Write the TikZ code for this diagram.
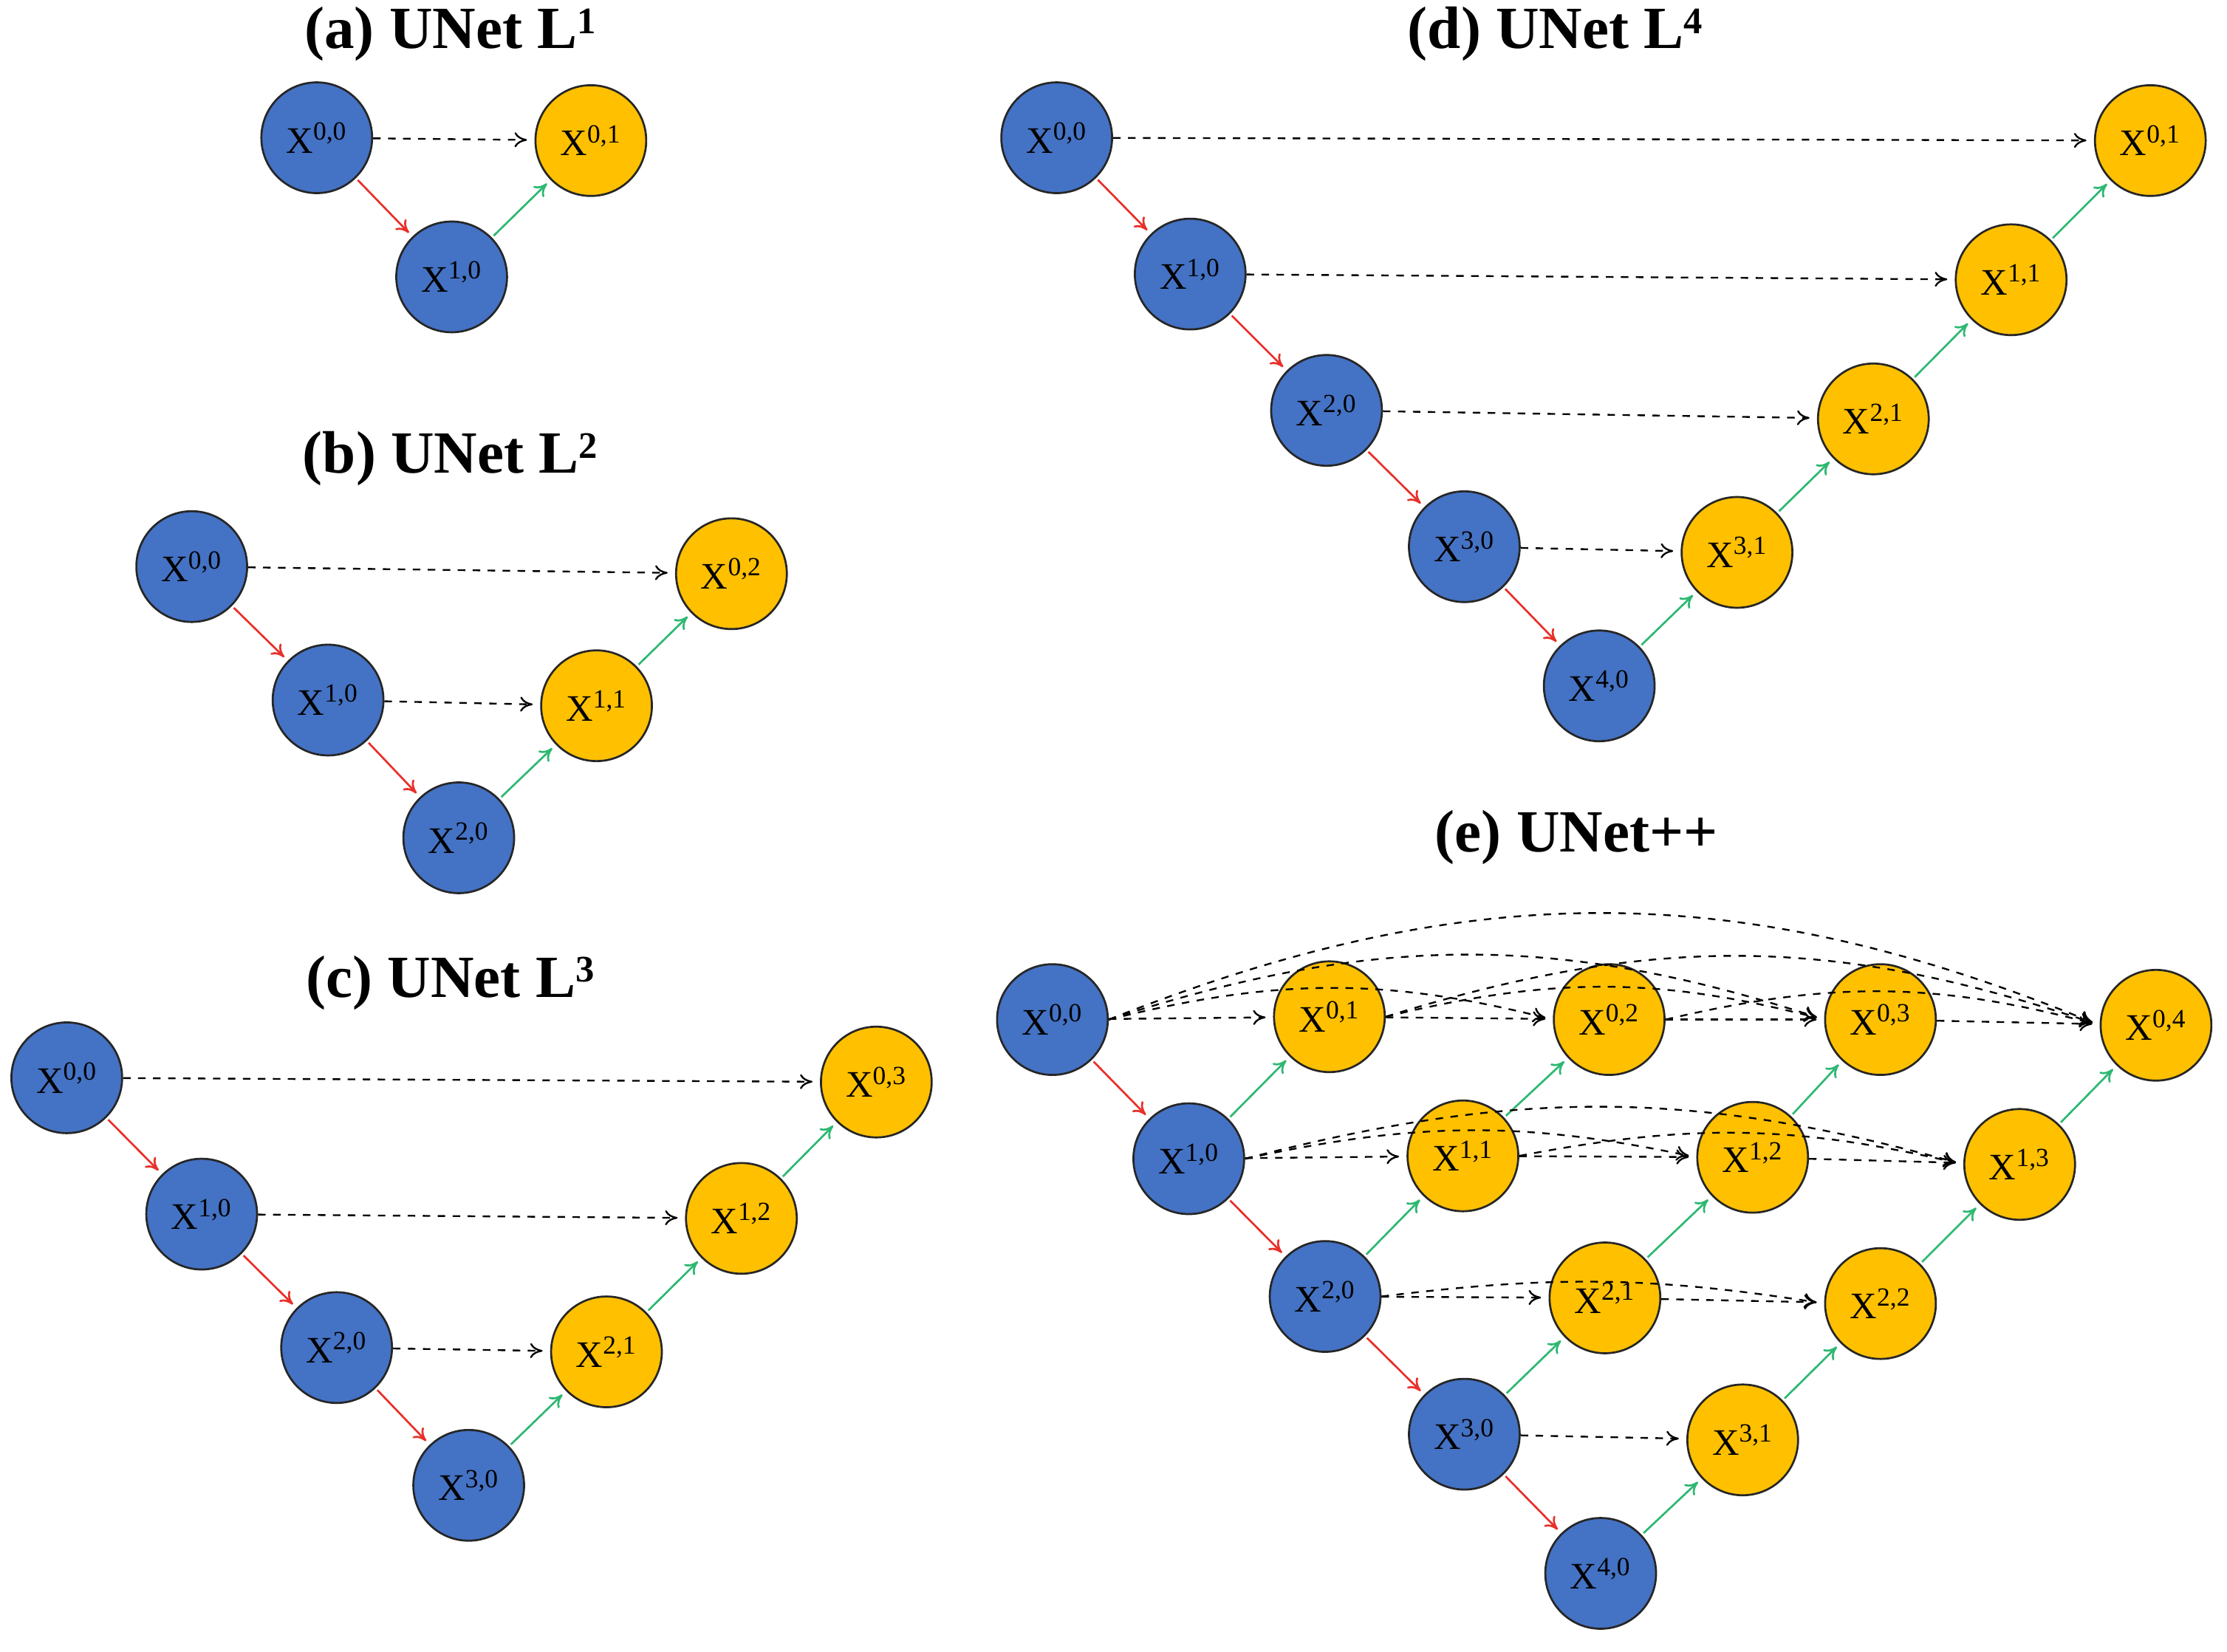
\documentclass[tikz,border=0pt]{standalone}
\usepackage{fontspec}
\setmainfont{Liberation Serif}
\usetikzlibrary{arrows.meta}
\definecolor{nb}{HTML}{4472C4}
\definecolor{ny}{HTML}{FFC000}
\definecolor{gr}{HTML}{2EB872}
\definecolor{rd}{HTML}{E8302A}
\begin{document}
\begin{tikzpicture}[x=0.02cm,y=-0.02cm,
 enc/.style={circle,draw=black!85,line width=0.8pt,fill=nb,minimum size=1.56cm,inner sep=0pt,font=\fontsize{15}{15}\selectfont},
 dec/.style={enc,fill=ny},
 ttl/.style={font=\fontsize{24}{24}\selectfont\bfseries},
 dn/.style={draw=rd,line width=0.8pt,-{To[length=5pt,width=6pt]},shorten >=2pt,shorten <=1pt},
 up/.style={draw=gr,line width=0.8pt,-{To[length=5pt,width=6pt]},shorten >=2pt,shorten <=1pt},
 sk/.style={draw=black,dashed,line width=0.7pt,-{To[length=5pt,width=6pt]},shorten >=3pt}]
\useasboundingbox (0,0) rectangle (1568,1163);
\newcommand{\lb}[2]{X\textsuperscript{#1,#2}}
\newcommand{\tsup}[1]{\raisebox{0.55ex}{\fontsize{15}{15}\selectfont #1}}
% (a)
\node[ttl] (ta) at (317,24) {(a) UNet L\tsup{1}};
\node[enc] (a00) at (223,97) {\lb00};
\node[dec] (a01) at (416,99) {\lb01};
\node[enc] (a10) at (318,195) {\lb10};
\draw[sk] (a00) -- (a01); \draw[dn] (a00) -- (a10); \draw[up] (a10) -- (a01);
% (b)
\node[ttl] (tb) at (317,323) {(b) UNet L\tsup{2}};
\node[enc] (b00) at (135,399) {\lb00};
\node[dec] (b02) at (515,404) {\lb02};
\node[enc] (b10) at (231,493) {\lb10};
\node[dec] (b11) at (420,497) {\lb11};
\node[enc] (b20) at (323,590) {\lb20};
\draw[sk] (b00) -- (b02); \draw[sk] (b10) -- (b11);
\draw[dn] (b00) -- (b10); \draw[dn] (b10) -- (b20);
\draw[up] (b20) -- (b11); \draw[up] (b11) -- (b02);
% (c)
\node[ttl] (tc) at (317,692) {(c) UNet L\tsup{3}};
\node[enc] (c00) at (47,759) {\lb00};
\node[dec] (c03) at (617,762) {\lb03};
\node[enc] (c10) at (142,855) {\lb10};
\node[dec] (c12) at (522,858) {\lb12};
\node[enc] (c20) at (237,949) {\lb20};
\node[dec] (c21) at (427,952) {\lb21};
\node[enc] (c30) at (330,1046) {\lb30};
\draw[sk] (c00) -- (c03); \draw[sk] (c10) -- (c12); \draw[sk] (c20) -- (c21);
\draw[dn] (c00) -- (c10); \draw[dn] (c10) -- (c20); \draw[dn] (c20) -- (c30);
\draw[up] (c30) -- (c21); \draw[up] (c21) -- (c12); \draw[up] (c12) -- (c03);
% (d)
\node[ttl] (td) at (1095,24) {(d) UNet L\tsup{4}};
\node[enc] (d00) at (744,97) {\lb00};
\node[dec] (d01) at (1514,99) {\lb01};
\node[enc] (d10) at (838,193) {\lb10};
\node[dec] (d11) at (1416,197) {\lb11};
\node[enc] (d20) at (934,289) {\lb20};
\node[dec] (d21) at (1319,295) {\lb21};
\node[enc] (d30) at (1031,385) {\lb30};
\node[dec] (d31) at (1223,389) {\lb31};
\node[enc] (d40) at (1126,483) {\lb40};
\draw[sk] (d00) -- (d01); \draw[sk] (d10) -- (d11); \draw[sk] (d20) -- (d21); \draw[sk] (d30) -- (d31);
\draw[dn] (d00) -- (d10); \draw[dn] (d10) -- (d20); \draw[dn] (d20) -- (d30); \draw[dn] (d30) -- (d40);
\draw[up] (d40) -- (d31); \draw[up] (d31) -- (d21); \draw[up] (d21) -- (d11); \draw[up] (d11) -- (d01);
% (e)
\node[ttl] (te) at (1110,590) {(e) UNet++};
\node[enc] (e00) at (741,718) {\lb00};
\node[dec] (e01) at (936,716) {\lb01};
\node[dec] (e02) at (1133,718) {\lb02};
\node[dec] (e03) at (1324,718) {\lb03};
\node[dec] (e04) at (1518,722) {\lb04};
\node[enc] (e10) at (837,816) {\lb10};
\node[dec] (e11) at (1030,814) {\lb11};
\node[dec] (e12) at (1234,815) {\lb12};
\node[dec] (e13) at (1422,820) {\lb13};
\node[enc] (e20) at (933,913) {\lb20};
\node[dec] (e21) at (1130,914) {\lb21};
\node[dec] (e22) at (1324,918) {\lb22};
\node[enc] (e30) at (1031,1010) {\lb30};
\node[dec] (e31) at (1227,1014) {\lb31};
\node[enc] (e40) at (1127,1108) {\lb40};
\draw[dn] (e00) -- (e10); \draw[dn] (e10) -- (e20); \draw[dn] (e20) -- (e30); \draw[dn] (e30) -- (e40);
\draw[up] (e10) -- (e01); \draw[up] (e11) -- (e02); \draw[up] (e12) -- (e03); \draw[up] (e13) -- (e04);
\draw[up] (e20) -- (e11); \draw[up] (e21) -- (e12); \draw[up] (e22) -- (e13);
\draw[up] (e30) -- (e21); \draw[up] (e31) -- (e22);
\draw[up] (e40) -- (e31);
% skips row 0
\draw[sk] (e00) -- (e01); \draw[sk] (e01) -- (e02); \draw[sk] (e02) -- (e03); \draw[sk] (e03) -- (e04);
\draw[sk] (e00.east) to[bend left=14] (e02.west);
\draw[sk] (e01.east) to[bend left=14] (e03.west);
\draw[sk] (e02.east) to[bend left=14] (e04.west);
\draw[sk] (e00.east) to[bend left=18] (e03.west);
\draw[sk] (e01.east) to[bend left=18] (e04.west);
\draw[sk] (e00.east) to[bend left=22] (e04.west);
% row 1
\draw[sk] (e10) -- (e11); \draw[sk] (e11) -- (e12); \draw[sk] (e12) -- (e13);
\draw[sk] (e10.east) to[bend left=12] (e12.west);
\draw[sk] (e11.east) to[bend left=12] (e13.west);
\draw[sk] (e10.east) to[bend left=15] (e13.west);
% row 2
\draw[sk] (e20) -- (e21); \draw[sk] (e21) -- (e22);
\draw[sk] (e20.east) to[bend left=8] (e22.west);
% row 3
\draw[sk] (e30) -- (e31);
\end{tikzpicture}
\end{document}
